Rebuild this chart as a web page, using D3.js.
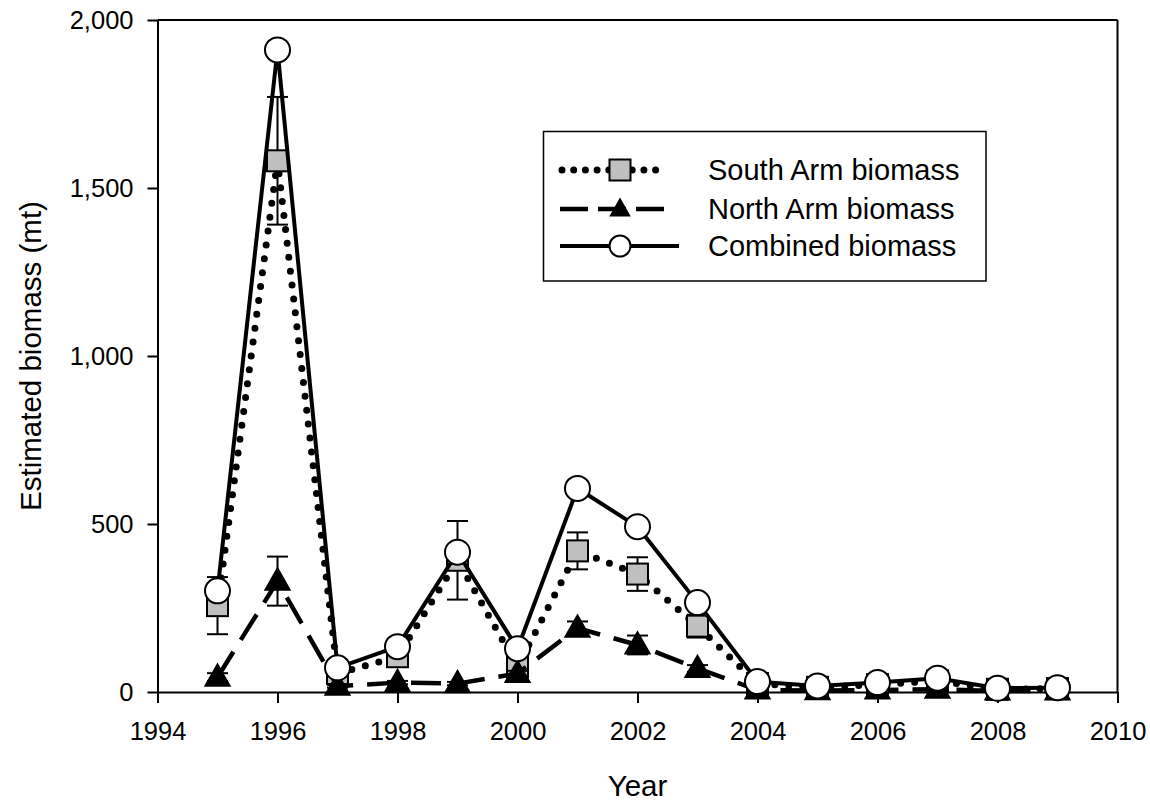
<!DOCTYPE html>
<html><head><meta charset="utf-8">
<script src="https://cdn.jsdelivr.net/npm/d3@7"></script>
<style>body{margin:0;background:#fff}svg{display:block}text{font-family:Arial,"Liberation Sans",sans-serif;fill:#000}</style>
</head><body><svg id="c" width="1150" height="801"></svg>
<script>
const years = [1995,1996,1997,1998,1999,2000,2001,2002,2003,2004,2005,2006,2007,2008,2009];
const southArm = [257,1581,55,105,392,75,420,351,196,25,14,22,33,8,10];
const southErr = [85,190,10,15,117,20,55,50,34,5,3,4,5,2,2];
const northArm = [44,330,17,28,25,55,190,140,70,6,4,6,8,3,3];
const northErr = [12,73,4,5,5,8,20,28,10,2,1,2,2,1,1];
const combined = [301,1911,72,135,416,129,606,492,266,31,18,28,41,11,13];
const xTicks = [1994,1996,1998,2000,2002,2004,2006,2008,2010];
const yTicks = [0,500,1000,1500,2000];
const legendLabels = ["South Arm biomass","North Arm biomass","Combined biomass"];

const svg = d3.select("#c");
const L=157.5, R=1117.5, T=20, B=692;
const x = d3.scaleLinear().domain([1994,2010]).range([L,R]);
const y = d3.scaleLinear().domain([0,2000]).range([B,T]);

// frame
svg.append("line").attr("x1",L).attr("x2",R).attr("y1",T).attr("y2",T).attr("stroke","#000").attr("stroke-width",2);
svg.append("line").attr("x1",R).attr("x2",R).attr("y1",T).attr("y2",B).attr("stroke","#000").attr("stroke-width",2);

const xa = svg.append("g").attr("transform",`translate(0,${B})`)
  .call(d3.axisBottom(x).tickValues(xTicks).tickFormat(d3.format("d")).tickSize(11).tickSizeOuter(0));
xa.selectAll("text").attr("dy",null).attr("y",48).style("font-size","25.5px");
const ya = svg.append("g").attr("transform",`translate(${L},0)`)
  .call(d3.axisLeft(y).tickValues(yTicks).tickFormat(d3.format(",")).tickSize(10).tickSizeOuter(0).tickPadding(14));
ya.selectAll("text").attr("dy","0.35em").style("font-size","25.5px");
svg.selectAll(".domain").attr("stroke","#000").attr("stroke-width",2);
svg.selectAll(".tick line").attr("stroke","#000").attr("stroke-width",2);

svg.append("text").attr("x",(L+R)/2).attr("y",796).attr("text-anchor","middle").style("font-size","29.5px").text("Year");
svg.append("text").attr("transform",`translate(41,${(T+B)/2}) rotate(-90)`).attr("text-anchor","middle").style("font-size","29.5px").text("Estimated biomass (mt)");

const line = d3.line().x((d,i)=>x(years[i])).y(d=>y(d));
const styles = {
  south: {dash:"0 14", w:7, cap:"round"},
  north: {dash:"30 14", w:4.5, cap:"butt"},
  comb: {dash:null, w:4, cap:"butt"}
};
function drawLine(vals, st){
  svg.append("path").datum(vals).attr("d",line).attr("fill","none").attr("stroke","#000")
    .attr("stroke-width",st.w).attr("stroke-dasharray",st.dash).attr("stroke-linecap",st.cap);
}
function drawErr(vals, errs){
  const g = svg.append("g").attr("stroke","#000").attr("stroke-width",2);
  vals.forEach((v,i)=>{
    const cx=x(years[i]), y1=y(v+errs[i]), y2=y(Math.max(0,v-errs[i]));
    g.append("line").attr("x1",cx).attr("x2",cx).attr("y1",y1).attr("y2",y2);
    g.append("line").attr("x1",cx-10.5).attr("x2",cx+10.5).attr("y1",y1).attr("y2",y1);
    g.append("line").attr("x1",cx-10.5).attr("x2",cx+10.5).attr("y1",y2).attr("y2",y2);
  });
}
function square(g,cx,cy,s){g.append("rect").attr("x",cx-s/2).attr("y",cy-s/2).attr("width",s).attr("height",s).attr("fill","#c0c0c0").attr("stroke","#000").attr("stroke-width",2);}
function tri(g,cx,cy,w){const h=w*0.88;g.append("path").attr("d",`M${cx},${cy-h*0.6}L${cx+w/2},${cy+h*0.4}L${cx-w/2},${cy+h*0.4}Z`).attr("fill","#000").attr("stroke","#000").attr("stroke-width",1.5);}
function circ(g,cx,cy,r){g.append("circle").attr("cx",cx).attr("cy",cy).attr("r",r).attr("fill","#fff").attr("stroke","#000").attr("stroke-width",2);}

// South
drawLine(southArm, styles.south);
drawErr(southArm, southErr);
const gs = svg.append("g");
southArm.forEach((v,i)=>square(gs,x(years[i]),y(v),21));
// North
drawLine(northArm, styles.north);
drawErr(northArm, northErr);
const gn = svg.append("g");
northArm.forEach((v,i)=>tri(gn,x(years[i]),y(v),25));
// Combined
drawLine(combined, styles.comb);
const gc = svg.append("g");
combined.forEach((v,i)=>circ(gc,x(years[i]),y(v),12.5));

// legend
const lg = svg.append("g");
lg.append("rect").attr("x",543.5).attr("y",131.5).attr("width",442.5).attr("height",149.5).attr("fill","#fff").attr("stroke","#000").attr("stroke-width",1.5);
const rows=[170,209,246];
const keys=["south","north","comb"];
const lx1=[560,560,560], lx2=[666,667,679];
keys.forEach((k,i)=>{
  const st=styles[k];
  lg.append("line").attr("x1",k==="south"?562:lx1[i]).attr("x2",lx2[i]).attr("y1",rows[i]).attr("y2",rows[i]).attr("stroke","#000")
    .attr("stroke-width",k==="south"?7:st.w).attr("stroke-dasharray",k==="south"?"0 11.7":(k==="north"?"28 10":null)).attr("stroke-linecap",st.cap);
  if(k==="south") square(lg,620,rows[i],21);
  if(k==="north") tri(lg,620,rows[i],19);
  if(k==="comb") circ(lg,620,rows[i],10.5);
  lg.append("text").attr("x",708).attr("y",rows[i]).attr("dy","0.36em").style("font-size","29px").text(legendLabels[i]);
});
</script></body></html>
